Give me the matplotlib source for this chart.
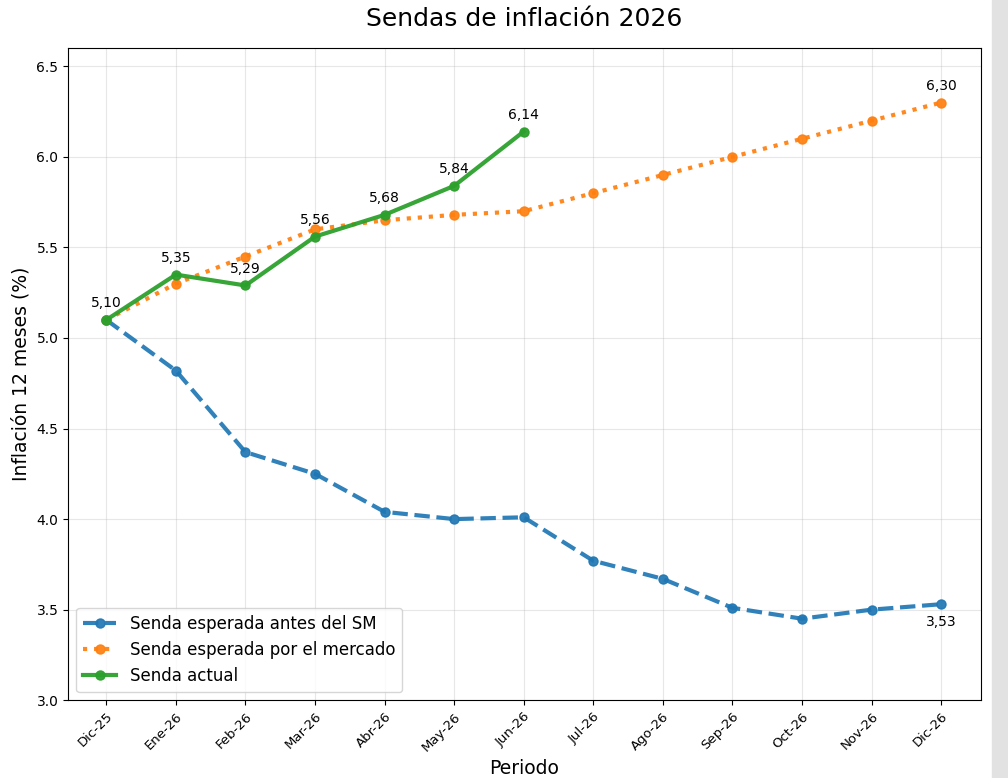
import matplotlib
matplotlib.use("Agg")
import matplotlib.pyplot as plt
from matplotlib.patches import Rectangle

periodos = ["Dic-25", "Ene-26", "Feb-26", "Mar-26", "Abr-26", "May-26", "Jun-26",
            "Jul-26", "Ago-26", "Sep-26", "Oct-26", "Nov-26", "Dic-26"]
senda_antes_sm = [5.10, 4.82, 4.37, 4.25, 4.04, 4.00, 4.01, 3.77, 3.67, 3.51, 3.45, 3.50, 3.53]
senda_mercado = [5.10, 5.30, 5.45, 5.60, 5.65, 5.68, 5.70, 5.80, 5.90, 6.00, 6.10, 6.20, 6.30]
senda_actual = [5.10, 5.35, 5.29, 5.56, 5.68, 5.84, 6.14]

fig = plt.figure(figsize=(10.08, 7.78), dpi=100)
ax = fig.add_axes([0.0675, 0.100, 0.9055, 0.838])

x_all = list(range(len(periodos)))
x_act = list(range(len(senda_actual)))

ax.plot(x_all, senda_antes_sm, color="#1f77b4", linestyle="--", linewidth=3,
        marker="o", markersize=6.5, label="Senda esperada antes del SM", alpha=0.92)
ax.plot(x_all, senda_mercado, color="#ff7f0e", linestyle=":", linewidth=3,
        marker="o", markersize=6.5, label="Senda esperada por el mercado", alpha=0.92)
ax.plot(x_act, senda_actual, color="#2ca02c", linestyle="-", linewidth=3,
        marker="o", markersize=6.5, label="Senda actual", alpha=0.95)

def fmt(v):
    return f"{v:.2f}".replace(".", ",")

for xi, v in zip(x_act, senda_actual):
    ax.annotate(fmt(v), (xi, v), textcoords="offset points", xytext=(0, 7),
                ha="center", va="bottom", fontsize=10)
ax.annotate(fmt(senda_mercado[-1]), (x_all[-1], senda_mercado[-1]), textcoords="offset points",
            xytext=(0, 7), ha="center", va="bottom", fontsize=10)
ax.annotate(fmt(senda_antes_sm[-1]), (x_all[-1], senda_antes_sm[-1]), textcoords="offset points",
            xytext=(0, -8), ha="center", va="top", fontsize=10)

ax.set_xticks(x_all)
ax.set_xticklabels(periodos, rotation=45, ha="right", rotation_mode="anchor", fontsize=9.5)
ax.tick_params(axis="y", labelsize=10)
ax.set_ylim(3.0, 6.6)
ax.set_xlim(-0.55, 12.57)
ax.grid(True, alpha=0.3)
ax.set_title("Sendas de inflación 2026", fontsize=18, pad=16)
ax.set_xlabel("Periodo", fontsize=13.5)
ax.set_ylabel("Inflación 12 meses (%)", fontsize=13.5)
ax.legend(loc="lower left", fontsize=12)

fig.patches.append(Rectangle((992/1008, 0), 16/1008, 1, transform=fig.transFigure,
                             color="#e2e2e2", zorder=-1))

fig.savefig("out.png", dpi=100)
